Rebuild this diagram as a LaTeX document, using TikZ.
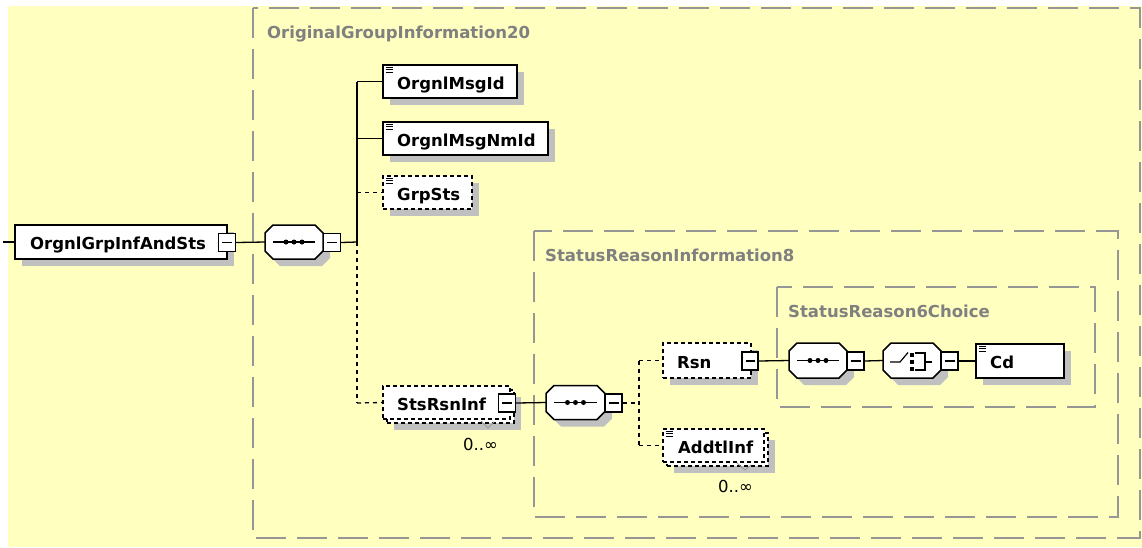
\documentclass[tikz,border=0pt]{standalone}
\usepackage{fontspec}
\setmainfont{DejaVu Sans}
\usetikzlibrary{shadows}
\definecolor{bgY}{RGB}{255,255,192}
\definecolor{grpgray}{RGB}{150,150,150}
\definecolor{lblgray}{RGB}{128,128,128}
\definecolor{shd}{RGB}{192,192,192}
\newcommand\octdraw[1]{\path[octa] ([xshift=8pt]#1.north west) -- ([xshift=-8pt]#1.north east) -- ([yshift=-8pt]#1.north east) -- ([yshift=8pt]#1.south east) -- ([xshift=-8pt]#1.south east) -- ([xshift=8pt]#1.south west) -- ([yshift=8pt]#1.south west) -- ([yshift=-8pt]#1.north west) -- cycle;}
\newcommand\seqicon[1]{\draw[conn] ([xshift=8pt]#1.west) -- ([xshift=-8pt]#1.east);
  \foreach \dx in {-8,0,8}{\fill ([xshift=\dx pt]#1.center) circle (2.5pt);}}
\begin{document}
\begin{tikzpicture}[x=1pt,y=-1pt,
  conn/.style={line width=1.3pt},
  opt/.style={conn, dash pattern=on 4pt off 4pt},
  grp/.style={draw=grpgray, line width=1.5pt, dash pattern=on 30pt off 11pt},
  grplbl/.style={text=lblgray, font=\bfseries\fontsize{16.5}{18}\selectfont, inner sep=0, anchor=base west},
  lbl/.style={font=\bfseries\fontsize{16.5}{18}\selectfont, inner sep=0, anchor=base west},
  occ/.style={font=\fontsize{16.5}{18}\selectfont, inner sep=0, anchor=base west},
  shad/.style={drop shadow={shadow xshift=7pt, shadow yshift=-7pt, fill=shd, opacity=1}},
  elem/.style={draw, fill=white, line width=2pt, inner sep=0, shad},
  optbase/.style={draw, fill=white, line width=1.6pt, dash pattern=on 4pt off 3pt, inner sep=0},
  optelem/.style={optbase, shad},
  octa/.style={draw, fill=white, line width=1.5pt, shad},
  hole/.style={inner sep=0, outer sep=0},
  simp/.style={path picture={\foreach \d in {2.5,4.8,7.1}{\draw[solid, line width=0.9pt] ([shift={(2.5pt,-\d pt)}]path picture bounding box.north west) -- ++(7pt,0pt);}}},
  minusb/.style={draw, solid, fill=white, line width=1.4pt, inner sep=0, minimum width=17, minimum height=18,
    path picture={\draw[line width=1.3pt] ([xshift=3.5pt]path picture bounding box.west) -- ([xshift=-3.5pt]path picture bounding box.east);}},
]
\useasboundingbox (0,0) rectangle (1142,547);
\fill[white] (0,0) rectangle (1142,547);
\fill[bgY] (8,6) rectangle (1142,547);

% group boxes
\draw[grp] (253,8) rectangle (1140,538);
\node[grplbl] (g1lbl) at (267,38.5) {OriginalGroupInformation20};
\draw[grp] (534,231) rectangle (1118,517);
\node[grplbl] (g2lbl) at (545,261) {StatusReasonInformation8};
\draw[grp] (777,287) rectangle (1095,407);
\node[grplbl] (g3lbl) at (788,317) {StatusReason6Choice};

% junction coordinates
\coordinate (start) at (3,242);
\coordinate (j1) at (357,242);
\coordinate (jtop) at (357,81.5);
\coordinate (jnm) at (357,138.5);
\coordinate (jgs) at (357,192.5);
\coordinate (jsr) at (357,403);
\coordinate (j2) at (639,403);
\coordinate (jrsn) at (639,360.5);
\coordinate (jad) at (639,445.5);

% root
\node[elem, minimum width=212, minimum height=34] (root) at (121,242) {};
\node[lbl] (roott) at (30,249.5) {OrgnlGrpInfAndSts};
\node[minusb] (rootm) at (227,242.5) {};

% sequence 1
\node[hole, minimum width=58, minimum height=34] (seq1) at (294,242) {};
\octdraw{seq1}
\seqicon{seq1}
\node[minusb] (seq1m) at (332,242.5) {};

% children of OriginalGroupInformation20
\node[elem, simp, minimum width=134, minimum height=33] (msgid) at (450,81.5) {};
\node[lbl] (msgidt) at (397,89) {OrgnlMsgId};
\node[elem, simp, minimum width=165, minimum height=33] (nmid) at (465.5,138.5) {};
\node[lbl] (nmidt) at (397,146) {OrgnlMsgNmId};
\node[optelem, simp, minimum width=89, minimum height=33] (grpsts) at (427.5,192.5) {};
\node[lbl] (grpstst) at (397,200) {GrpSts};

\node[optelem, minimum width=127, minimum height=33] (stsrsnB) at (450.5,406.5) {};
\node[optbase, minimum width=127, minimum height=33] (stsrsn) at (446.5,402.5) {};
\node[lbl] (stsrsnt) at (397,410) {StsRsnInf};
\node[minusb] (stsrsnm) at (507,403) {};
\node[occ] (stsrsno) at (463,450) {0..∞};
\draw[line width=0.8pt, grpgray] (481,421) -- (488,428) -- (494,422);

% sequence 2
\node[hole, minimum width=59, minimum height=34] (seq2) at (575.5,402.5) {};
\octdraw{seq2}
\seqicon{seq2}
\node[minusb] (seq2m) at (613.5,403) {};

% Rsn
\node[optelem, minimum width=88, minimum height=35] (rsn) at (707,360.5) {};
\node[lbl] (rsnt) at (677,368) {Rsn};
\node[minusb, minimum width=16] (rsnm) at (750,361) {};

% AddtlInf
\node[optelem, minimum width=101, minimum height=33] (addtlB) at (717.5,449.5) {};
\node[optbase, simp, minimum width=101, minimum height=33] (addtl) at (713.5,445.5) {};
\node[lbl] (addtlt) at (678,453) {AddtlInf};
\node[occ] (addtlo) at (718,492) {0..∞};
\draw[line width=0.8pt, grpgray] (737,463) -- (745,470) -- (751,465);

% sequence 3
\node[hole, minimum width=58, minimum height=35] (seq3) at (818,360.5) {};
\octdraw{seq3}
\seqicon{seq3}
\node[minusb] (seq3m) at (855.5,361) {};

% choice
\node[hole, minimum width=58, minimum height=35] (choice) at (912,360.5) {};
\octdraw{choice}
\begin{scope}[shift={(choice.center)}]
  \draw[line width=1.2pt] (-22,1.5) -- (-12,1.5) -- (-4,-8);
  \fill (-2,-7.5) rectangle (2,-3.5);
  \fill (-2,-0.5) rectangle (2,3.5);
  \fill (-2,6.5) rectangle (2,10.5);
  \draw[line width=1.2pt] (3,-7.5) -- (13,-7.5) -- (13,9.5) -- (3,9.5);
  \draw[line width=1.2pt] (13,1.5) -- (20,1.5);
\end{scope}
\node[minusb] (choicem) at (949.5,361) {};

% Cd
\node[elem, simp, minimum width=88, minimum height=34] (cd) at (1020,361) {};
\node[lbl] (cdt) at (990,368.5) {Cd};

% connectors
\draw[conn] (start) -- (root.west);
\draw[conn] (rootm.east) -- (seq1.west);
\draw[conn] (seq1m.east) -- (j1);
\draw[conn] (jtop) -- (j1);
\draw[opt] (j1) -- (jsr);
\draw[conn] (jtop) -- (msgid.west);
\draw[conn] (jnm) -- (nmid.west);
\draw[opt] (jgs) -- (grpsts.west);
\draw[opt] (jsr) -- (stsrsn.west);
\draw[conn] (stsrsnm.east) -- (seq2.west);
\draw[opt] (seq2m.east) -- (j2);
\draw[opt] (jrsn) -- (jad);
\draw[opt] (jrsn) -- (rsn.west);
\draw[opt] (jad) -- (addtl.west);
\draw[conn] (rsnm.east) -- (seq3.west);
\draw[conn] (seq3m.east) -- (choice.west);
\draw[conn] (choicem.east) -- (cd.west);
\end{tikzpicture}
\end{document}
